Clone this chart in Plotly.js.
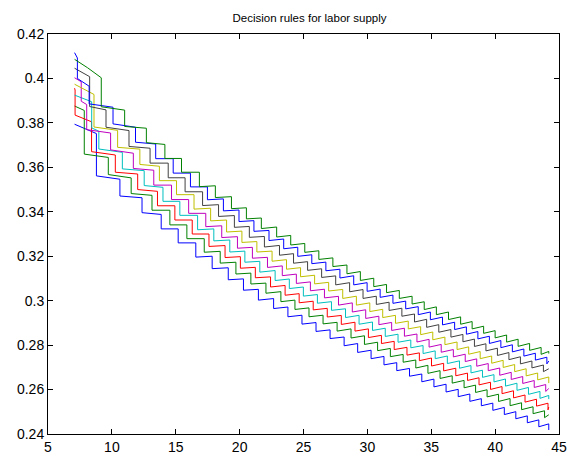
<!DOCTYPE html>
<html>
<head>
<meta charset="utf-8">
<script src="https://cdn.plot.ly/plotly-3.0.1.min.js"></script>
<style>html,body{margin:0;padding:0;background:#fff;}#plot{width:568px;height:459px;}</style>
</head>
<body>
<div id="plot"></div>
<script>
// x tick values and y tick labels
var xTicks = [5, 10, 15, 20, 25, 30, 35, 40, 45];
var yTicks = [0.24, 0.26, 0.28, 0.30, 0.32, 0.34, 0.36, 0.38, 0.40, 0.42];
var yTickText = ['0.24', '0.26', '0.28', '0.3', '0.32', '0.34', '0.36', '0.38', '0.4', '0.42'];

// tilt of a step tread (rise from its left end to its right end), read per x band
var tiltUpTo = [11, 13.5, 17, 22, 28, 34, 40, 46];
var tiltVal  = [-0.0015, -0.0008, 0, 0.0004, 0.0007, 0.0010, 0.0012, 0.0013];

// series 1 (blue, lowest): head points, then step x and tread levels (last = end point)
var b1HeadX = [7.08, 7.9, 8.79];
var b1HeadY = [0.3794, 0.3774, 0.3752];
var b1X = [8.79, 10.63, 12.36, 13.86, 15.19, 16.57, 17.85, 19.11, 20.30, 21.47, 22.66, 23.78, 24.88, 25.98, 27.08, 28.18, 29.24, 30.29, 31.3, 32.3, 33.3, 34.26, 35.21, 36.16, 37.11, 38.02, 38.92, 39.82, 40.72, 41.62, 42.52, 43.42, 44.2];
var b1Y = [0.3554, 0.3467, 0.3392, 0.3323, 0.3260, 0.3198, 0.3146, 0.3096, 0.3049, 0.3006, 0.2968, 0.2931, 0.2898, 0.2865, 0.2833, 0.2802, 0.2772, 0.2744, 0.2716, 0.2690, 0.2665, 0.2641, 0.2618, 0.2595, 0.2574, 0.2553, 0.2533, 0.2513, 0.2494, 0.2475, 0.2457, 0.2439, 0.2418];

// series 2 (green)
var g1HeadX = [7.08, 7.45, 7.84];
var g1HeadY = [0.3876, 0.3866, 0.3856];
var g1X = [7.84, 9.72, 11.51, 13.14, 14.54, 15.87, 17.23, 18.48, 19.71, 20.88, 22.06, 23.23, 24.33, 25.43, 26.53, 27.63, 28.72, 29.77, 30.8, 31.8, 32.8, 33.79, 34.74, 35.69, 36.64, 37.57, 38.47, 39.37, 40.27, 41.17, 42.07, 42.97, 43.87, 44.2];
var g1Y = [0.3652, 0.3560, 0.3478, 0.3407, 0.3341, 0.3279, 0.3220, 0.3171, 0.3122, 0.3077, 0.3037, 0.2999, 0.2964, 0.2931, 0.2899, 0.2868, 0.2837, 0.2808, 0.2780, 0.2753, 0.2728, 0.2703, 0.2679, 0.2656, 0.2635, 0.2614, 0.2593, 0.2573, 0.2553, 0.2534, 0.2516, 0.2498, 0.2480, 0.2480];

// series 3 (red)
var rHeadX = [7.08, 7.12, 7.12, 7.8, 8.41];
var rHeadY = [0.3956, 0.3948, 0.3835, 0.3820, 0.3805];
var rX = [8.41, 10.27, 12.02, 13.57, 14.93, 16.29, 17.6, 18.86, 20.06, 21.23, 22.42, 23.56, 24.66, 25.76, 26.86, 27.96, 29.03, 30.08, 31.1, 32.1, 33.1, 34.07, 35.02, 35.97, 36.92, 37.84, 38.74, 39.64, 40.54, 41.44, 42.34, 43.24, 44.14, 44.2];
var rY = [0.3663, 0.3574, 0.3496, 0.3427, 0.3363, 0.3300, 0.3246, 0.3196, 0.3148, 0.3105, 0.3065, 0.3028, 0.2994, 0.2962, 0.2930, 0.2898, 0.2868, 0.2839, 0.2812, 0.2785, 0.2760, 0.2736, 0.2712, 0.2690, 0.2668, 0.2647, 0.2627, 0.2607, 0.2588, 0.2569, 0.2550, 0.2532, 0.2515, 0.2515];

// series 4 (cyan)
var cHeadX = [7.08, 7.75, 8.42];
var cHeadY = [0.3925, 0.3910, 0.3895];
var cX = [8.42, 8.98, 10.82, 12.53, 14.0, 15.32, 16.71, 17.98, 19.23, 20.41, 21.58, 22.78, 23.89, 24.99, 26.09, 27.19, 28.29, 29.35, 30.4, 31.4, 32.4, 33.4, 34.36, 35.31, 36.26, 37.21, 38.11, 39.01, 39.91, 40.81, 41.71, 42.61, 43.51, 44.2];
var cY = [0.3770, 0.3675, 0.3589, 0.3514, 0.3447, 0.3384, 0.3321, 0.3271, 0.3221, 0.3175, 0.3132, 0.3094, 0.3058, 0.3024, 0.2992, 0.2960, 0.2929, 0.2899, 0.2871, 0.2844, 0.2818, 0.2793, 0.2768, 0.2745, 0.2723, 0.2702, 0.2681, 0.2661, 0.2641, 0.2622, 0.2603, 0.2585, 0.2567, 0.2557];

// series 5 (magenta)
var mHeadX = [7.08, 7.6];
var mHeadY = [0.4003, 0.3985];
var mX = [7.6, 8.03, 9.90, 11.68, 13.28, 14.67, 16.01, 17.35, 18.6, 19.83, 21.0, 22.18, 23.34, 24.44, 25.54, 26.64, 27.74, 28.82, 29.87, 30.9, 31.9, 32.9, 33.88, 34.83, 35.78, 36.73, 37.66, 38.56, 39.46, 40.36, 41.26, 42.16, 43.06, 43.96, 44.2];
var mY = [0.3890, 0.3762, 0.3671, 0.3591, 0.3520, 0.3455, 0.3393, 0.3335, 0.3286, 0.3238, 0.3193, 0.3153, 0.3116, 0.3081, 0.3048, 0.3016, 0.2985, 0.2954, 0.2925, 0.2897, 0.2871, 0.2845, 0.2820, 0.2797, 0.2774, 0.2753, 0.2732, 0.2711, 0.2691, 0.2671, 0.2652, 0.2634, 0.2616, 0.2598, 0.2598];

// series 6 (yellow)
var yHeadX = [7.08, 7.8, 8.6];
var yHeadY = [0.3974, 0.3952, 0.3928];
var yX = [8.6, 10.45, 12.19, 13.72, 15.06, 16.43, 17.73, 18.98, 20.18, 21.35, 22.54, 23.67, 24.77, 25.87, 26.97, 28.07, 29.14, 30.19, 31.2, 32.2, 33.2, 34.17, 35.12, 36.07, 37.02, 37.93, 38.83, 39.73, 40.63, 41.53, 42.43, 43.33, 44.2];
var yY = [0.3774, 0.3686, 0.3609, 0.3540, 0.3477, 0.3414, 0.3361, 0.3311, 0.3264, 0.3221, 0.3181, 0.3145, 0.3111, 0.3079, 0.3047, 0.3015, 0.2985, 0.2956, 0.2929, 0.2903, 0.2878, 0.2853, 0.2830, 0.2808, 0.2786, 0.2765, 0.2745, 0.2725, 0.2706, 0.2687, 0.2668, 0.2650, 0.2629];

// series 7 (dark grey)
var kHeadX = [7.08, 7.65, 8.26];
var kHeadY = [0.4046, 0.4027, 0.4008];
var kX = [8.26, 9.54, 11.34, 12.99, 14.41, 15.73, 17.1, 18.35, 19.59, 20.76, 21.94, 23.12, 24.22, 25.32, 26.42, 27.52, 28.61, 29.66, 30.7, 31.7, 32.7, 33.69, 34.64, 35.59, 36.54, 37.48, 38.38, 39.28, 40.18, 41.08, 41.98, 42.88, 43.78, 44.2];
var kY = [0.3866, 0.3773, 0.3690, 0.3619, 0.3553, 0.3490, 0.3430, 0.3381, 0.3332, 0.3287, 0.3245, 0.3208, 0.3172, 0.3140, 0.3108, 0.3076, 0.3045, 0.3015, 0.2988, 0.2961, 0.2935, 0.2910, 0.2886, 0.2864, 0.2842, 0.2821, 0.2800, 0.2780, 0.2760, 0.2741, 0.2722, 0.2704, 0.2687, 0.2687];

// series 8 (blue, upper)
var b2HeadX = [7.08, 7.3, 7.3, 7.8, 8.22];
var b2HeadY = [0.4116, 0.4092, 0.4000, 0.3982, 0.3965];
var b2X = [8.22, 10.09, 11.85, 13.43, 14.8, 16.15, 17.48, 18.73, 19.95, 21.12, 22.3, 23.45, 24.55, 25.65, 26.75, 27.85, 28.93, 29.98, 31.0, 32.0, 33.0, 33.98, 34.93, 35.88, 36.83, 37.75, 38.65, 39.55, 40.45, 41.35, 42.25, 43.15, 44.05, 44.2];
var b2Y = [0.3878, 0.3788, 0.3709, 0.3639, 0.3574, 0.3512, 0.3456, 0.3406, 0.3358, 0.3314, 0.3274, 0.3237, 0.3203, 0.3170, 0.3138, 0.3107, 0.3076, 0.3047, 0.3020, 0.2993, 0.2968, 0.2943, 0.2920, 0.2897, 0.2876, 0.2855, 0.2834, 0.2814, 0.2795, 0.2776, 0.2757, 0.2739, 0.2722, 0.2722];

// series 9 (green, upper)
var g2HeadX = [7.08, 8.1, 9.17];
var g2HeadY = [0.4086, 0.4048, 0.4003];
var g2X = [9.17, 11.0, 12.7, 14.15, 15.45, 16.85, 18.1, 19.36, 20.53, 21.7, 22.9, 24.0, 25.1, 26.2, 27.3, 28.4, 29.45, 30.5, 31.5, 32.5, 33.5, 34.45, 35.4, 36.35, 37.3, 38.2, 39.1, 40.0, 40.9, 41.8, 42.7, 43.6, 44.2];
var g2Y = [0.3865, 0.3780, 0.3707, 0.3640, 0.3578, 0.3515, 0.3466, 0.3416, 0.3370, 0.3328, 0.3290, 0.3254, 0.3221, 0.3189, 0.3157, 0.3126, 0.3096, 0.3068, 0.3041, 0.3015, 0.2990, 0.2966, 0.2943, 0.2921, 0.2900, 0.2879, 0.2859, 0.2839, 0.2820, 0.2801, 0.2783, 0.2765, 0.2762];

var series = [
  {c: '#0000FF', hx: b1HeadX, hy: b1HeadY, x: b1X, y: b1Y},
  {c: '#008000', hx: g1HeadX, hy: g1HeadY, x: g1X, y: g1Y},
  {c: '#FF0000', hx: rHeadX, hy: rHeadY, x: rX, y: rY},
  {c: '#00BFBF', hx: cHeadX, hy: cHeadY, x: cX, y: cY},
  {c: '#BF00BF', hx: mHeadX, hy: mHeadY, x: mX, y: mY},
  {c: '#BFBF00', hx: yHeadX, hy: yHeadY, x: yX, y: yY},
  {c: '#404040', hx: kHeadX, hy: kHeadY, x: kX, y: kY},
  {c: '#0000FF', hx: b2HeadX, hy: b2HeadY, x: b2X, y: b2Y},
  {c: '#008000', hx: g2HeadX, hy: g2HeadY, x: g2X, y: g2Y}
];

function tiltAt(xm) {
  for (var i = 0; i < tiltUpTo.length; i++) if (xm < tiltUpTo[i]) return tiltVal[i];
  return tiltVal[tiltVal.length - 1];
}

var traces = series.map(function (s) {
  var px = s.hx.slice(), py = s.hy.slice();
  var n = s.x.length;
  for (var i = 0; i < n - 1; i++) {
    var t = tiltAt((s.x[i] + s.x[i + 1]) / 2);
    px.push(s.x[i]); py.push(s.y[i] - t / 2);
    px.push(s.x[i + 1]); py.push(s.y[i] + t / 2);
  }
  if (s.y[n - 1] !== s.y[n - 2]) { px.push(s.x[n - 1]); py.push(s.y[n - 1]); }
  return {x: px, y: py, type: 'scatter', mode: 'lines', hoverinfo: 'skip',
          line: {color: s.c, width: 1}, showlegend: false};
});

var font = {family: 'Liberation Sans, Arial, Helvetica, sans-serif', size: 14, color: '#000'};
var axisCommon = {
  showgrid: false, zeroline: false, showline: true, linecolor: '#000', linewidth: 1,
  mirror: 'ticks', ticks: 'inside', ticklen: 5, tickwidth: 1, tickcolor: '#000',
  tickfont: font
};

var layout = {
  width: 568, height: 459,
  margin: {l: 48, r: 9, t: 34, b: 25, pad: 0},
  paper_bgcolor: '#fff', plot_bgcolor: '#fff',
  font: font,
  title: {text: 'Decision rules for labor supply', font: {family: font.family, size: 11.5, color: '#000'},
          x: 0.545, xref: 'container', y: 1 - 18 / 459, yref: 'container', xanchor: 'center', yanchor: 'middle'},
  xaxis: Object.assign({}, axisCommon, {range: [5, 45], tickmode: 'array', tickvals: xTicks, ticktext: xTicks.map(String)}),
  yaxis: Object.assign({}, axisCommon, {range: [0.24, 0.42], tickmode: 'array', tickvals: yTicks, ticktext: yTickText})
};

Plotly.newPlot('plot', traces, layout, {staticPlot: true, displayModeBar: false});
</script>
</body>
</html>
